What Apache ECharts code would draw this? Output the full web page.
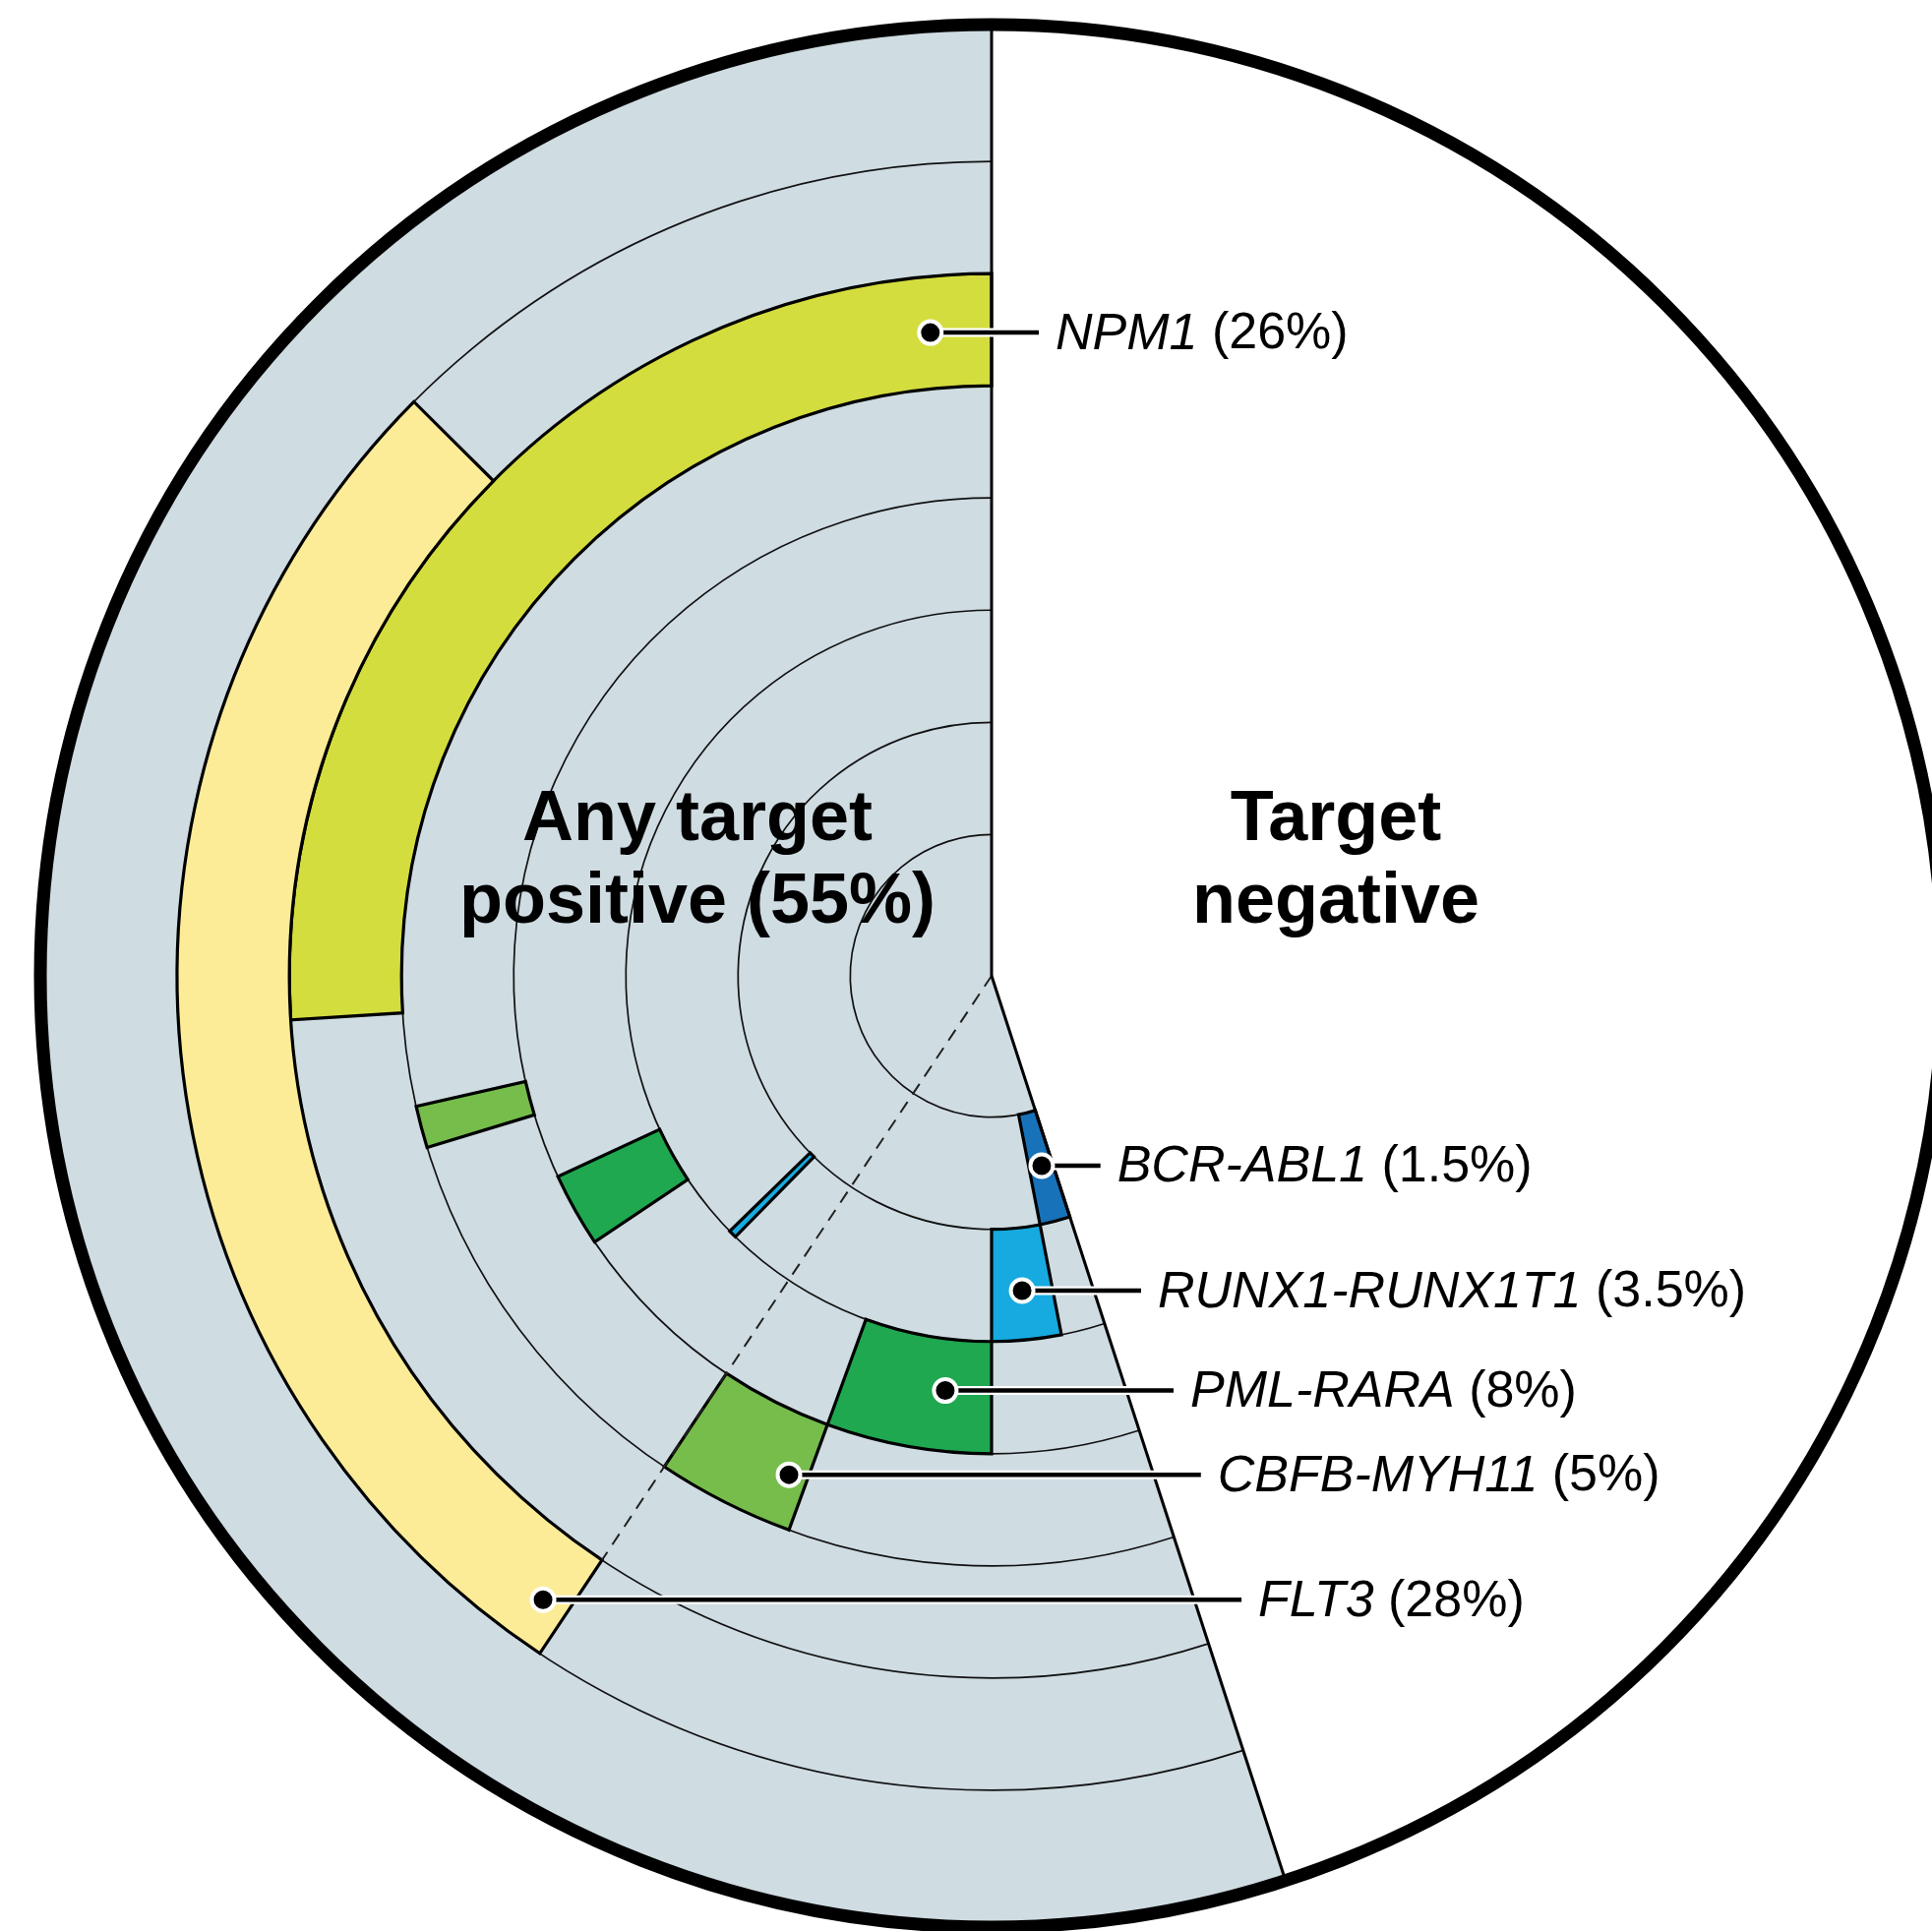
<!DOCTYPE html>
<html><head><meta charset="utf-8">
<script src="https://cdn.jsdelivr.net/npm/echarts@6/dist/echarts.min.js"></script>
<style>html,body{margin:0;padding:0;background:#fff}#main{width:1964px;height:1963px}</style>
</head><body><div id="main"></div>
<script>
// ---------------- data ----------------
// rings from the centre outwards (ring 1 .. ring 6)
const genes   = ['BCR-ABL1', 'RUNX1-RUNX1T1', 'PML-RARA', 'CBFB-MYH11', 'NPM1', 'FLT3'];
const genePct = ['1.5%', '3.5%', '8%', '5%', '26%', '28%'];
const positivePct = 55;                       // any target positive
const titlePositive = 'Any target\npositive (55%)';
const titleNegative = 'Target\nnegative';
// arcs, in % of patients counted clockwise from the positive / negative border
const segGene  = [0,    1,    1,     2,     2,    3,     3,     4,    5];
const segStart = [0,    1.94, 17.35, 5.0,   20.6, 10.58, 25.3,  29.0, 14.36];
const segEnd   = [1.94, 5.0,  17.7,  10.58, 23.1, 14.36, 26.45, 55,   42.45];
const flt3Divider = 14.36;                    // dashed line
// label anchor points [ring position, % position]
const anchorRing = [1.49, 2.56, 3.46, 4.54, 5.50, 6.59];
const anchorPct  = [0.89, 3.46, 6.77, 11.14, 53.49, 14.92];

// ---------------- style ----------------
const geneColors = ['#1872ba', '#16aae0', '#1fa850', '#76bd4b', '#d4dd3e', '#fcec97'];
const GREY = '#cfdce2';
const R_MIN = -0.26, R_MAX = 8.22;
const FONT = '"Liberation Sans", Arial, Helvetica, sans-serif';

function geom(params, api) {
  const cs = params.coordSys;
  const cx = cs.cx, cy = cs.cy;
  const rad = v => { const q = api.coord([v, 0]); return Math.hypot(q[0] - cx, q[1] - cy); };
  const ang = p => { const q = api.coord([R_MAX, p]); return Math.atan2(q[1] - cy, q[0] - cx); };
  const span = (p0, p1) => { const a0 = ang(p0); let a1 = ang(p1); while (a1 <= a0) a1 += Math.PI * 2; return [a0, a1]; };
  return { cx, cy, rad, ang, span };
}

const chart = echarts.init(document.getElementById('main'), null, { renderer: 'canvas' });

const series = [];
// grey positive region
series.push({
  type: 'custom', coordinateSystem: 'polar', silent: true, z: 1,
  data: [[R_MAX, positivePct]],
  renderItem(params, api) {
    const g = geom(params, api);
    const s = g.span(0, api.value(1));
    return { type: 'sector', shape: { cx: g.cx, cy: g.cy, r0: 0, r: g.rad(R_MAX), startAngle: s[0], endAngle: s[1], clockwise: true },
      style: { fill: GREY } };
  }
});
// ring borders
series.push({
  type: 'custom', coordinateSystem: 'polar', silent: true, z: 2,
  data: genes.map((_, i) => [i + 1]).concat([[genes.length + 1]]),
  renderItem(params, api) {
    const g = geom(params, api);
    const s = g.span(0, positivePct);
    return { type: 'arc', shape: { cx: g.cx, cy: g.cy, r: g.rad(api.value(0)), startAngle: s[0], endAngle: s[1], clockwise: true },
      style: { stroke: '#111', lineWidth: 1.7, fill: null } };
  }
});
// gene arcs
series.push({
  type: 'custom', coordinateSystem: 'polar', silent: true, z: 3,
  data: segGene.map((gi, i) => [gi + 1, segStart[i], segEnd[i], gi]),
  renderItem(params, api) {
    const g = geom(params, api);
    const ring = api.value(0);
    const s = g.span(api.value(1), api.value(2));
    return { type: 'sector', shape: { cx: g.cx, cy: g.cy, r0: g.rad(ring), r: g.rad(ring + 1), startAngle: s[0], endAngle: s[1], clockwise: true },
      style: { fill: geneColors[api.value(3)], stroke: '#000', lineWidth: 3.2, lineJoin: 'miter' } };
  }
});
// dashed divider to FLT3 start
series.push({
  type: 'custom', coordinateSystem: 'polar', silent: true, z: 4,
  data: [[genes.length, flt3Divider]],
  renderItem(params, api) {
    const g = geom(params, api);
    const q = api.coord([api.value(0), api.value(1)]);
    return { type: 'line', shape: { x1: g.cx, y1: g.cy, x2: q[0], y2: q[1] },
      style: { stroke: '#222', lineWidth: 2, lineDash: [13, 9] } };
  }
});
// radial borders of the positive region
series.push({
  type: 'custom', coordinateSystem: 'polar', silent: true, z: 5,
  data: [[R_MAX, 0], [R_MAX, positivePct]],
  renderItem(params, api) {
    const p = api.value(1);
    const a = api.coord([R_MIN, p]), b = api.coord([R_MAX, p]);
    return { type: 'line', shape: { x1: a[0], y1: a[1], x2: b[0], y2: b[1] },
      style: { stroke: '#000', lineWidth: 3 } };
  }
});
// outer circle
series.push({
  type: 'custom', coordinateSystem: 'polar', silent: true, z: 6,
  data: [[R_MAX, 0]],
  renderItem(params, api) {
    const g = geom(params, api);
    return { type: 'circle', shape: { cx: g.cx, cy: g.cy, r: g.rad(api.value(0)) },
      style: { fill: null, stroke: '#000', lineWidth: 13 } };
  }
});
// gene labels
series.push({
  type: 'custom', coordinateSystem: 'polar', silent: true, z: 10,
  data: genes.map((_, i) => [anchorRing[i], anchorPct[i], i]),
  renderItem(params, api) {
    const g = geom(params, api);
    const i = api.value(2);
    const pt = api.coord([api.value(0), api.value(1)]);
    const b = api.coord([R_MAX, pt[1] < g.cy ? positivePct : 0]);
    const bx = g.cx + (b[0] - g.cx) * (pt[1] - g.cy) / (b[1] - g.cy);
    const lineEnd = bx + 48, tx = lineEnd + 17;
    return { type: 'group', children: [
      { type: 'line', shape: { x1: pt[0], y1: pt[1], x2: lineEnd + 1.5, y2: pt[1] }, style: { stroke: '#fff', lineWidth: 9 } },
      { type: 'line', shape: { x1: pt[0], y1: pt[1], x2: lineEnd, y2: pt[1] }, style: { stroke: '#000', lineWidth: 4.5 } },
      { type: 'circle', shape: { cx: pt[0], cy: pt[1], r: 11.5 }, style: { fill: '#000', stroke: '#fff', lineWidth: 4 } },
      { type: 'text', x: tx, y: pt[1] + 2, style: {
          text: '{g|' + genes[i] + '}{p| (' + genePct[i] + ')}',
          align: 'left', verticalAlign: 'middle',
          rich: {
            g: { fontFamily: FONT, fontSize: 52, fontStyle: 'italic', fill: '#000' },
            p: { fontFamily: FONT, fontSize: 52, fill: '#000' }
          } } }
    ] };
  }
});

chart.setOption({
  animation: false,
  backgroundColor: '#fff',
  polar: { center: [1008, 992], radius: 967 },
  angleAxis: { type: 'value', min: 0, max: 100, startAngle: 288, clockwise: true, show: false },
  radiusAxis: { type: 'value', min: R_MIN, max: R_MAX, show: false },
  graphic: { elements: [
    { type: 'text', x: 709, y: 876, z: 100, style: { text: titlePositive, font: 'bold 72px ' + FONT, fill: '#000', align: 'center', verticalAlign: 'middle', lineHeight: 84 } },
    { type: 'text', x: 1358, y: 876, z: 100, style: { text: titleNegative, font: 'bold 72px ' + FONT, fill: '#000', align: 'center', verticalAlign: 'middle', lineHeight: 84 } }
  ] },
  series
});
</script></body></html>
